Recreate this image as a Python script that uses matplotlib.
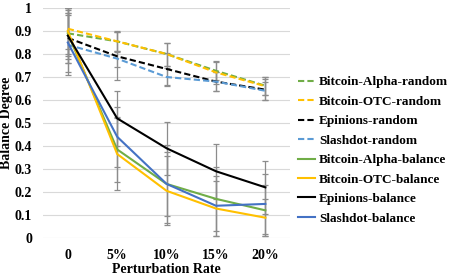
import numpy as np
import matplotlib
matplotlib.use("Agg")
import matplotlib.pyplot as plt

plt.rcParams['font.family'] = ['Liberation Serif', 'DejaVu Serif']
plt.rcParams['font.weight'] = 'bold'

rates = ["0", "5%", "10%", "15%", "20%"]

alpha_random = [0.89, 0.855, 0.80, 0.727, 0.662]
otc_random = [0.91, 0.855, 0.80, 0.72, 0.66]
epinions_random = [0.87, 0.79, 0.735, 0.68, 0.645]
slashdot_random = [0.84, 0.78, 0.70, 0.68, 0.64]
alpha_balance = [0.89, 0.385, 0.235, 0.17, 0.12]
otc_balance = [0.90, 0.365, 0.205, 0.128, 0.088]
epinions_balance = [0.88, 0.52, 0.39, 0.29, 0.22]
slashdot_balance = [0.85, 0.44, 0.235, 0.14, 0.148]

alpha_random_err = [0.10, 0.04, 0.05, 0.04, 0.04]
otc_random_err = [0.09, 0.045, 0.05, 0.05, 0.04]
epinions_random_err = [0.11, 0.105, 0.07, 0.04, 0.045]
slashdot_random_err = [0.13, 0.035, 0.04, 0.04, 0.04]
alpha_balance_err = [0.11, 0.14, 0.14, 0.14, 0.11]
otc_balance_err = [0.10, 0.155, 0.15, 0.12, 0.08]
epinions_balance_err = [0.12, 0.12, 0.115, 0.12, 0.115]
slashdot_balance_err = [0.13, 0.13, 0.17, 0.13, 0.13]

series = [
    ("Bitcoin-Alpha-random", alpha_random, alpha_random_err, "#70AD47", "--"),
    ("Bitcoin-OTC-random", otc_random, otc_random_err, "#FFC000", "--"),
    ("Epinions-random", epinions_random, epinions_random_err, "#000000", "--"),
    ("Slashdot-random", slashdot_random, slashdot_random_err, "#5B9BD5", "--"),
    ("Bitcoin-Alpha-balance", alpha_balance, alpha_balance_err, "#70AD47", "-"),
    ("Bitcoin-OTC-balance", otc_balance, otc_balance_err, "#FFC000", "-"),
    ("Epinions-balance", epinions_balance, epinions_balance_err, "#000000", "-"),
    ("Slashdot-balance", slashdot_balance, slashdot_balance_err, "#4472C4", "-"),
]

fig = plt.figure(figsize=(4.49, 2.77), dpi=100)
ax = fig.add_axes([0.096, 0.141, 0.55, 0.83])

x = np.arange(len(rates))
handles = []
for name, vals, err, col, ls in series:
    ax.errorbar(x, vals, yerr=err, fmt='none', ecolor='#8c8c8c',
                elinewidth=0.9, capsize=2, capthick=0.9, zorder=2)
    h, = ax.plot(x, vals, color=col, linestyle=ls, linewidth=1.5,
                 label=name, zorder=3)
    if ls == "--":
        h.set_dashes((3, 1.5))
    handles.append(h)

ax.set_xlim(-0.5, len(rates) - 0.5)
ax.set_ylim(0, 1)
ax.set_yticks(np.arange(0, 1.01, 0.1))
ax.set_yticklabels(["0", "0.1", "0.2", "0.3", "0.4", "0.5", "0.6", "0.7", "0.8", "0.9", "1"])
ax.set_xticks(x)
ax.set_xticklabels(rates)
ax.tick_params(axis='y', length=0, labelsize=10, pad=8)
ax.tick_params(axis='x', length=0, labelsize=10, pad=8)
for s in ax.spines.values():
    s.set_visible(False)
ax.grid(axis='y', color='#d9d9d9', linewidth=0.8)
ax.set_axisbelow(True)

ax.set_xlabel("Perturbation Rate", fontsize=10, fontweight='bold', labelpad=1)
ax.set_ylabel("Balance Degree", fontsize=10, fontweight='bold', labelpad=1)

fig.legend(handles=handles, loc='upper left', bbox_to_anchor=(0.652, 0.745),
           frameon=False, fontsize=9.5, handlelength=1.3, handletextpad=0.3,
           labelspacing=0.55, borderaxespad=0)

fig.savefig("out.png", dpi=100)
